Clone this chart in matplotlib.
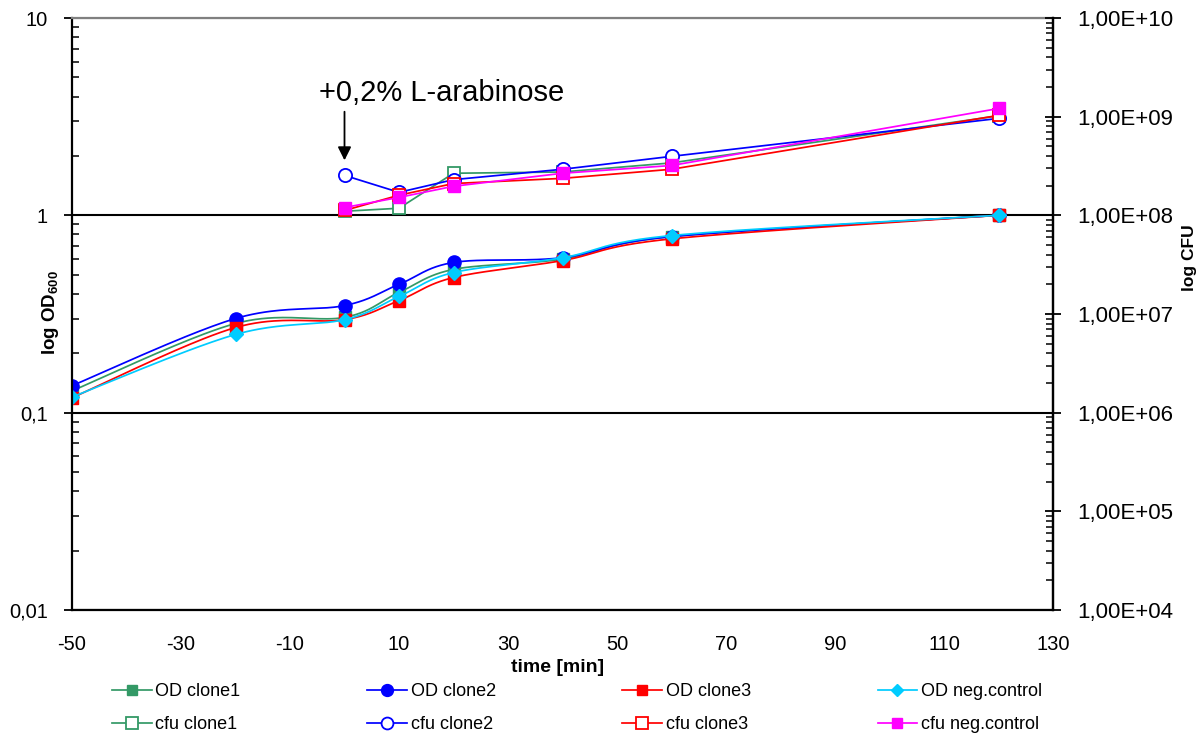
import numpy as np
import matplotlib
matplotlib.use("Agg")
import matplotlib.pyplot as plt
from matplotlib.ticker import FixedLocator, FixedFormatter, LogLocator, NullFormatter

plt.rcParams['font.family'] = ['Liberation Sans', 'DejaVu Sans']
plt.rcParams['mathtext.fontset'] = 'custom'
plt.rcParams['mathtext.rm'] = 'Liberation Sans'
plt.rcParams['mathtext.bf'] = 'Liberation Sans:bold'
plt.rcParams['axes.unicode_minus'] = False

# ---- data -------------------------------------------------------------
time_od = [-50, -20, 0, 10, 20, 40, 60, 120]
od_clone1 = [0.129, 0.283, 0.304, 0.407, 0.532, 0.600, 0.780, 1.0]
od_clone2 = [0.137, 0.300, 0.349, 0.447, 0.577, 0.610, 0.780, 1.0]
od_clone3 = [0.119, 0.270, 0.296, 0.370, 0.484, 0.590, 0.760, 1.0]
od_negctrl = [0.120, 0.249, 0.296, 0.388, 0.513, 0.610, 0.790, 1.0]

time_cfu = [0, 10, 20, 40, 60, 120]
cfu_clone1 = [1.10e8, 1.18e8, 2.67e8, 2.75e8, 3.40e8, 1.02e9]
cfu_clone2 = [2.54e8, 1.71e8, 2.30e8, 2.93e8, 3.96e8, 9.6e8]
cfu_clone3 = [1.12e8, 1.60e8, 2.10e8, 2.37e8, 2.93e8, 1.03e9]
cfu_negctrl = [1.20e8, 1.52e8, 1.97e8, 2.67e8, 3.20e8, 1.21e9]

x_ticks = [-50, -30, -10, 10, 30, 50, 70, 90, 110, 130]
od_ticks = [0.01, 0.1, 1, 10]
od_tick_labels = ["0,01", "0,1", "1", "10"]
cfu_ticks = [1e4, 1e5, 1e6, 1e7, 1e8, 1e9, 1e10]
cfu_tick_labels = ["1,00E+04", "1,00E+05", "1,00E+06", "1,00E+07",
                   "1,00E+08", "1,00E+09", "1,00E+10"]

GREEN = "#339966"
BLUE = "#0000FF"
RED = "#FF0000"
CYAN = "#00CCFF"
MAGENTA = "#FF00FF"


def smoothed(x, y, n=40):
    """Bezier smoothing through the points in (x, log y) space."""
    P = np.column_stack([np.asarray(x, float), np.log10(y)])
    m = len(P)
    xs, ys, idx = [], [], []
    t = np.linspace(0, 1, n, endpoint=False)[:, None]
    for i in range(m - 1):
        p0 = P[i - 1] if i > 0 else P[i]
        p1, p2 = P[i], P[i + 1]
        p3 = P[i + 2] if i + 2 < m else P[i + 1]
        c1 = p1 + (p2 - p0) / 6.0
        c2 = p2 - (p3 - p1) / 6.0
        seg = ((1 - t) ** 3) * p1 + 3 * ((1 - t) ** 2) * t * c1 \
            + 3 * (1 - t) * t ** 2 * c2 + t ** 3 * p2
        idx.append(len(xs))
        xs.extend(seg[:, 0])
        ys.extend(seg[:, 1])
    idx.append(len(xs))
    xs.append(P[-1, 0])
    ys.append(P[-1, 1])
    return np.array(xs), 10 ** np.array(ys), idx


fig = plt.figure(figsize=(12.03, 7.36), dpi=100)
ax = fig.add_axes([72 / 1203, 126 / 736, 981 / 1203, 592 / 736])
ax2 = ax.twinx()

lw = 1.25
od_series = [
    ("OD clone1", od_clone1, GREEN, dict(marker='s', ms=8.5, mfc=GREEN, mec=GREEN)),
    ("OD clone2", od_clone2, BLUE, dict(marker='o', ms=9.5, mfc=BLUE, mec=BLUE)),
    ("OD clone3", od_clone3, RED, dict(marker='s', ms=8.5, mfc=RED, mec=RED)),
    ("OD neg.control", od_negctrl, CYAN, dict(marker='D', ms=7.0, mfc=CYAN, mec=CYAN)),
]
od_handles = []
for label, vals, col, mk in od_series:
    sx, sy, idx = smoothed(time_od, vals)
    h, = ax.plot(sx, sy, color=col, lw=lw, markevery=idx, label=label, **mk)
    od_handles.append(h)

cfu_series = [
    ("cfu clone1", cfu_clone1, GREEN, dict(marker='s', ms=9, mfc='white', mec=GREEN, mew=1.3)),
    ("cfu clone2", cfu_clone2, BLUE, dict(marker='o', ms=9.5, mfc='white', mec=BLUE, mew=1.3)),
    ("cfu clone3", cfu_clone3, RED, dict(marker='s', ms=9, mfc='white', mec=RED, mew=1.3)),
    ("cfu neg.control", cfu_negctrl, MAGENTA, dict(marker='s', ms=8.5, mfc=MAGENTA, mec=MAGENTA)),
]
cfu_handles = []
for label, vals, col, mk in cfu_series:
    h, = ax2.plot(time_cfu, vals, color=col, lw=lw, label=label, **mk)
    cfu_handles.append(h)

# ---- axes -------------------------------------------------------------
ax.set_xlim(-50, 130)
ax.set_yscale('log')
ax.set_ylim(0.01, 10)
ax2.set_yscale('log')
ax2.set_ylim(1e4, 1e10)

ax.xaxis.set_major_locator(FixedLocator(x_ticks))
ax.tick_params(axis='x', length=0, pad=18, labelsize=14.5)

ax.yaxis.set_major_locator(FixedLocator(od_ticks))
ax.yaxis.set_major_formatter(FixedFormatter(od_tick_labels))
ax.yaxis.set_minor_locator(LogLocator(base=10, subs=np.arange(2, 10)))
ax.yaxis.set_minor_formatter(NullFormatter())
ax.tick_params(axis='y', which='major', direction='inout', length=11, width=1.3,
               pad=12, labelsize=14.5, right=False)
ax.tick_params(axis='y', which='minor', direction='in', length=5, width=1.1, right=False)

ax2.yaxis.set_major_locator(FixedLocator(cfu_ticks))
ax2.yaxis.set_major_formatter(FixedFormatter(cfu_tick_labels))
ax2.yaxis.set_minor_locator(LogLocator(base=10, subs=np.arange(2, 10)))
ax2.yaxis.set_minor_formatter(NullFormatter())
ax2.tick_params(axis='y', which='major', direction='inout', length=11, width=1.3,
                pad=12, labelsize=16, left=False)
ax2.tick_params(axis='y', which='minor', direction='in', length=5, width=1.1, left=False)

for s in ('left', 'bottom', 'right'):
    ax.spines[s].set_linewidth(1.6)
    ax.spines[s].set_color('black')
ax.spines['top'].set_color('#808080')
ax.spines['top'].set_linewidth(1.6)
for s in ('left', 'bottom', 'top'):
    ax2.spines[s].set_visible(False)
ax2.spines['right'].set_linewidth(1.6)

ax.grid(axis='y', which='major', color='black', lw=1.5)
ax.yaxis.get_gridlines()[-1].set_color('#808080')

ax.set_xlabel('time [min]', fontsize=14, fontweight='bold')
ax.xaxis.set_label_coords((558 - 72) / 981, (610 - 659) / 592)
ax.set_ylabel(r'log OD$_{\mathbf{600}}$', fontsize=13.5, fontweight='bold')
ax.yaxis.set_label_coords((61 - 72) / 981, (610 - 312) / 592)
ax2.set_ylabel('log CFU', fontsize=12.5, fontweight='bold')
ax2.yaxis.set_label_coords((1182 - 72) / 981, (610 - 258) / 592)

# induction marker
ax.annotate('', xy=(0, 1.9), xytext=(0, 3.35),
            arrowprops=dict(arrowstyle='-|>', color='black', lw=1.3,
                            mutation_scale=20, shrinkA=0, shrinkB=0))
ax.text(-4.6, 3.8, '+0,2% L-arabinose', fontsize=21, ha='left', va='baseline')

# legend: OD series on the first row, cfu series on the second
handles, labels = [], []
for ho, hc in zip(od_handles, cfu_handles):
    handles += [ho, hc]
    labels += [ho.get_label(), hc.get_label()]
fig.legend(handles, labels, ncol=4, mode='expand', loc='upper left',
           bbox_to_anchor=(112 / 1203, 0.0, 930 / 1203, 1 - 683 / 736),
           frameon=False, fontsize=13, handlelength=2.2, handletextpad=0.2,
           labelspacing=0.9, borderpad=0, borderaxespad=0, markerscale=0.9)

fig.savefig('out.png', dpi=100)
